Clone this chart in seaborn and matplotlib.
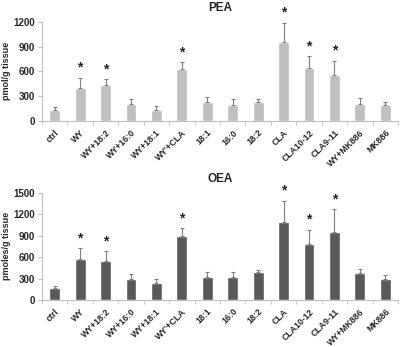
import numpy as np
import pandas as pd
import seaborn as sns
import matplotlib.pyplot as plt

# categories
groups = ['ctrl', 'WY', 'WY+18:2', 'WY+16:0', 'WY+18:1', "WY'+CLA", '18:1', '16:0',
          '18:2', 'CLA', 'CLA10-12', 'CLA9-11', 'WY+MK886', 'MK886']

# PEA (pmol/g tissue)
pea_mean = [140, 400, 430, 205, 140, 625, 225, 195, 230, 960, 640, 555, 210, 190]
pea_err = [35, 125, 80, 65, 45, 85, 60, 70, 40, 230, 145, 175, 65, 35]

# OEA (pmoles/g tissue)
oea_mean = [170, 570, 550, 300, 240, 900, 315, 325, 385, 1090, 785, 950, 380, 290]
oea_err = [30, 160, 130, 60, 60, 110, 80, 65, 40, 300, 200, 320, 60, 60]

# significant groups
signif = ['WY', 'WY+18:2', "WY'+CLA", 'CLA', 'CLA10-12', 'CLA9-11']

sns.set_style('white')
plt.rcParams['font.family'] = ['Liberation Sans', 'DejaVu Sans']

fig = plt.figure(figsize=(4, 3.47), dpi=100)
ax1 = fig.add_axes([0.105, 0.651, 0.89, 0.2865])
ax2 = fig.add_axes([0.105, 0.1354, 0.89, 0.309])

panels = [
    (ax1, pea_mean, pea_err, '#bfbfbf', 'PEA', 'pmol/g tissue', [0, 300, 600, 900, 1200]),
    (ax2, oea_mean, oea_err, '#595959', 'OEA', 'pmoles/g tissue', [0, 300, 600, 900, 1200, 1500]),
]

for ax, mean, err, col, title, ylab, yt in panels:
    df = pd.DataFrame({'group': groups, 'value': mean, 'err': err})
    sns.barplot(data=df, x='group', y='value', color=col, width=0.43,
                saturation=1, errorbar=None, ax=ax)
    ax.errorbar(np.arange(len(groups)), df['value'], yerr=[np.zeros(len(groups)), df['err']],
                fmt='none', ecolor='#7f7f7f', elinewidth=0.8, capsize=1.5, capthick=0.8)
    for i, g in enumerate(groups):
        if g in signif:
            top = df['value'][i] + df['err'][i]
            ax.annotate('*', (i, top), xytext=(0, 2), textcoords='offset points',
                        ha='center', va='bottom', fontsize=10, fontweight='bold')
    ax.set_xlim(-0.5, len(groups) - 0.5)
    ax.set_ylim(0, yt[-1])
    ax.set_yticks(yt)
    ax.set_title(title, fontsize=8.5, fontweight='bold', pad=8)
    ax.set_ylabel(ylab, fontsize=6.5, fontweight='bold', labelpad=2)
    ax.set_xlabel('')
    for s in ['top', 'right']:
        ax.spines[s].set_visible(False)
    for s in ['left', 'bottom']:
        ax.spines[s].set_color('#bfbfbf')
        ax.spines[s].set_linewidth(0.8)
    ax.set_xticks(np.arange(len(groups)))
    ax.set_xticklabels(groups, rotation=45, ha='right', rotation_mode='anchor',
                       fontsize=6.3, fontweight='bold')
    ax.set_xticks(np.arange(len(groups) + 1) - 0.5, minor=True)
    ax.tick_params(axis='x', which='major', length=0, pad=5)
    ax.tick_params(axis='x', which='minor', length=3, color='#bfbfbf', direction='out', bottom=True)
    ax.tick_params(axis='y', length=3, color='#bfbfbf', direction='out', left=True, pad=2)
    for lab in ax.get_yticklabels():
        lab.set_fontsize(7)
        lab.set_fontweight('bold')

fig.savefig('out.png', dpi=100)
